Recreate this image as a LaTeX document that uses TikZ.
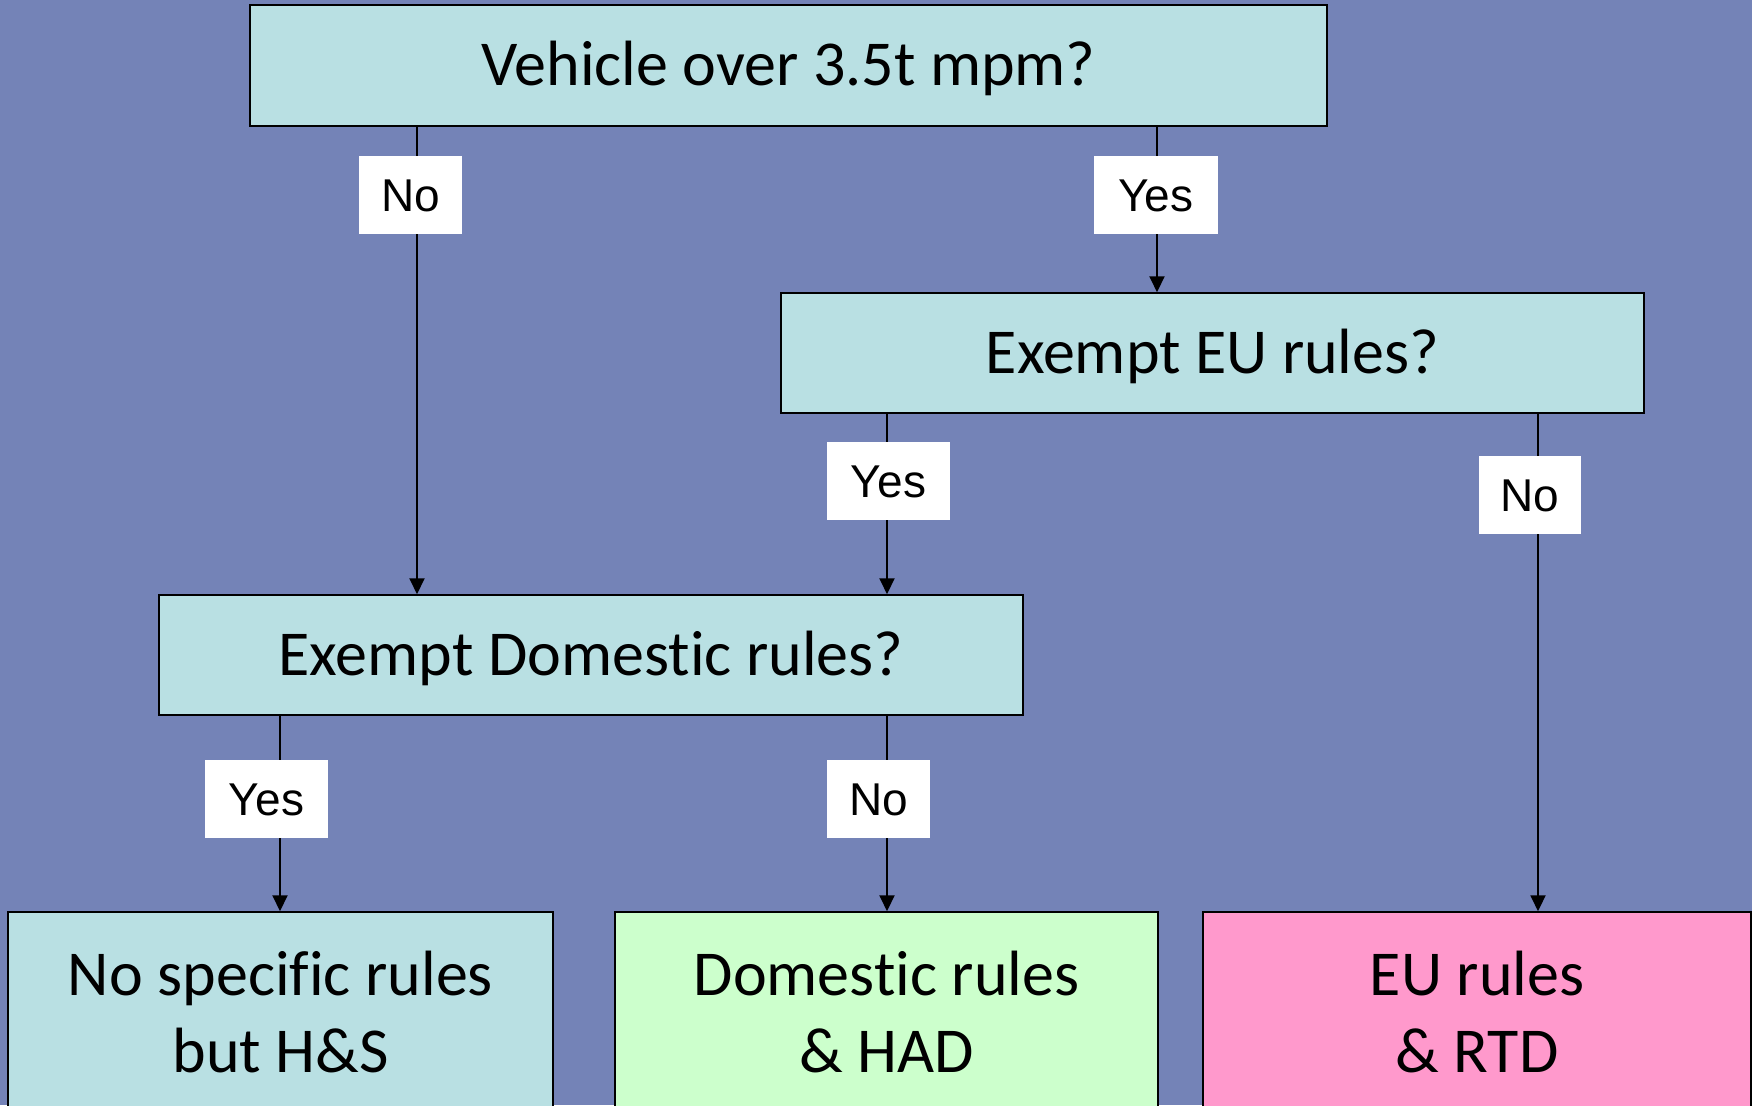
\documentclass[tikz,border=0pt]{standalone}
\usepackage{fontspec}
\setmainfont{Carlito}[Ligatures=NoCommon]
\newfontfamily\arialf{Liberation Sans}
\usetikzlibrary{arrows.meta}
\definecolor{bgblue}{RGB}{116,131,183}
\definecolor{qcyan}{RGB}{185,224,227}
\definecolor{rgreen}{RGB}{204,255,204}
\definecolor{rpink}{RGB}{255,153,204}
\begin{document}
\begin{tikzpicture}[x=1pt,y=-1pt,
  box/.style={draw=black,line width=1.5pt,inner sep=0pt,fill=qcyan,
    font=\fontsize{64}{70}\selectfont,text height=40pt,text depth=0pt},
  endbox/.style={draw=black,line width=1.5pt,inner sep=0pt,minimum height=218pt},
  lab/.style={fill=white,inner sep=0pt,font=\arialf\fontsize{46}{50}\selectfont,
    text height=33pt,text depth=0pt,minimum height=78pt},
  arr/.style={line width=2pt,-{Triangle[width=15pt,length=16pt]}},
  btxt/.style={anchor=base,font=\fontsize{64}{70}\selectfont,inner sep=0pt}]
\useasboundingbox (0,0) rectangle (1752,1105);
\fill[bgblue] (0,0) rectangle (1752,1105);
% decision boxes
\node[box,minimum width=1077pt,minimum height=121pt] (b1) at (788.5,65.5) {Vehicle over 3.5t mpm?};
\node[box,minimum width=863pt,minimum height=120pt] (b2) at (1212.5,353) {Exempt EU rules?};
\node[box,minimum width=864pt,minimum height=120pt] (b3) at (591,655) {Exempt Domestic rules?};
% outcome boxes
\node[endbox,fill=qcyan,minimum width=545pt] (b4) at (280.5,1021) {};
\node[endbox,fill=rgreen,minimum width=543pt] (b5) at (886.5,1021) {};
\node[endbox,fill=rpink,minimum width=548pt] (b6) at (1477,1021) {};
\node[btxt] (t4a) at (280.5,995) {No specific rules};
\node[btxt] (t4b) at (280.5,1072) {but H\&S};
\node[btxt] (t5a) at (886.5,995) {Domestic rules};
\node[btxt] (t5b) at (886.5,1072) {\& HAD};
\node[btxt] (t6a) at (1477,995) {EU rules};
\node[btxt] (t6b) at (1477,1072) {\& RTD};
% connector x positions
\coordinate (xNoA) at (417,0);
\coordinate (xYesA) at (1157,0);
\coordinate (xMid) at (887,0);
\coordinate (xNoB) at (1538,0);
\coordinate (xYesC) at (280,0);
% connectors
\draw[arr] (b1.south -| xNoA) -- (b3.north -| xNoA);
\draw[arr] (b1.south -| xYesA) -- (b2.north -| xYesA);
\draw[arr] (b2.south -| xMid) -- (b3.north -| xMid);
\draw[arr] (b2.south -| xNoB) -- (b6.north -| xNoB);
\draw[arr] (b3.south -| xYesC) -- (b4.north -| xYesC);
\draw[arr] (b3.south -| xMid) -- (b5.north -| xMid);
% labels
\node[lab,minimum width=103pt] (lNoA) at (410.5,195) {No};
\node[lab,minimum width=124pt] (lYesA) at (1156,195) {Yes};
\node[lab,minimum width=123pt] (lYesB) at (888.5,480.5) {Yes};
\node[lab,minimum width=102pt] (lNoB) at (1530,495) {No};
\node[lab,minimum width=123pt] (lYesC) at (266.5,799) {Yes};
\node[lab,minimum width=103pt] (lNoC) at (878.5,799) {No};
\end{tikzpicture}
\end{document}
